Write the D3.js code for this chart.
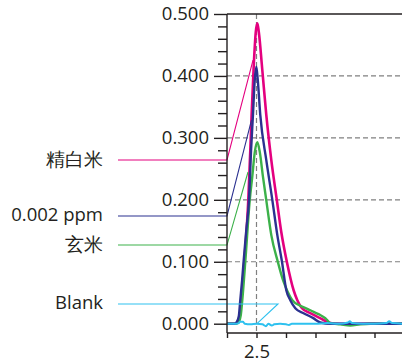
<!DOCTYPE html>
<html>
<head>
<meta charset="utf-8">
<script src="https://cdn.jsdelivr.net/npm/d3@7"></script>
<style>
  body { margin: 0; background: #fff; }
  svg { display: block; }
  text { font-family: "Open Sans", "Noto Sans", sans-serif; fill: #231f20; }
</style>
</head>
<body>
<div id="chart"></div>
<script>
// retention time (min) / absorbance
const seriesNames = ["精白米", "0.002 ppm", "玄米", "Blank"]

const pinkT = [2.0, 2.14, 2.183, 2.217, 2.242, 2.293, 2.361, 2.395, 2.417, 2.454, 2.488, 2.514, 2.539, 2.598, 2.666, 2.751, 2.844, 2.92, 3.014, 3.129, 3.192, 3.271, 3.412, 3.637, 3.717, 3.836, 5.0]
const pinkV = [0, 0, 0.003, 0.014, 0.038, 0.1, 0.2, 0.28, 0.337, 0.418, 0.471, 0.485, 0.471, 0.41, 0.337, 0.264, 0.2, 0.148, 0.1, 0.054, 0.038, 0.025, 0.017, 0.006, 0.002, 0, 0]

const navyT = [2.0, 2.124, 2.166, 2.2, 2.225, 2.256, 2.281, 2.327, 2.373, 2.408, 2.44, 2.47, 2.497, 2.522, 2.564, 2.666, 2.768, 2.853, 2.932, 3.005, 3.073, 3.158, 3.298, 3.463, 3.581, 3.75, 5.0]
const navyV = [0, 0, 0.003, 0.012, 0.038, 0.07, 0.1, 0.151, 0.2, 0.28, 0.337, 0.393, 0.415, 0.393, 0.337, 0.264, 0.2, 0.143, 0.1, 0.054, 0.038, 0.025, 0.017, 0.009, 0.002, 0, 0]

const greenT = [2.0, 2.158, 2.2, 2.234, 2.259, 2.31, 2.386, 2.429, 2.471, 2.514, 2.556, 2.61, 2.665, 2.751, 2.861, 2.954, 3.022, 3.107, 3.242, 3.361, 3.468, 3.581, 3.666, 3.751, 3.92, 4.09, 4.26, 4.43, 5.0]
const greenV = [0, 0, 0.003, 0.014, 0.038, 0.1, 0.2, 0.238, 0.277, 0.293, 0.277, 0.237, 0.2, 0.143, 0.1, 0.069, 0.053, 0.038, 0.029, 0.024, 0.019, 0.014, 0.009, 0.001, -0.001, -0.003, -0.001, 0, 0]

const blankT = [2.0, 2.15, 2.2, 2.22, 2.27, 2.3, 2.4, 2.5, 2.6, 2.66, 2.7, 2.76, 2.8, 2.9, 3.0, 3.05, 3.1, 3.3, 3.5, 3.7, 3.9, 4.05, 4.08, 4.12, 4.3, 4.5, 4.7, 4.75, 4.8, 5.0]
const blankV = [0, 0, 0.001, 0.003, 0.003, 0, -0.001, 0, -0.001, -0.004, 0, -0.003, -0.001, 0, -0.001, -0.002, 0, 0, 0, 0.001, 0, 0.002, 0.004, 0.001, 0, 0, 0.001, 0.004, 0.001, 0]

const yMajorTicks = [0, 0.1, 0.2, 0.3, 0.4, 0.5]
const yMinorTicks = [0.02, 0.04, 0.06, 0.08, 0.12, 0.14, 0.16, 0.18, 0.22, 0.24, 0.26, 0.28, 0.32, 0.34, 0.36, 0.38, 0.42, 0.44, 0.46, 0.48]
const xTicks = [2.0, 2.5, 3.0, 3.5, 4.0, 4.5, 5.0]
const xTickLabels = ["", "2.5", "", "", "", "", ""]
const yGridTicks = [0.1, 0.2, 0.3, 0.4]
const xGridTicks = [2.5]

const w = 402
const h = 363
const colors = ["#e4007f", "#2b3190", "#3cb14a", "#2ec1ef"]

const xScale = d3.scaleLinear().domain([2.0, 5.0]).range([227, 404])
const yScale = d3.scaleLinear().domain([-0.015, 0.5]).range([333, 14])

const svg = d3.select("#chart")
              .append("svg")
              .attr("width", w)
              .attr("height", h)

// dashed grid
svg.append("g")
  .selectAll("line")
  .data(yGridTicks)
  .enter()
  .append("line")
    .attr("x1", xScale(2.0))
    .attr("x2", w)
    .attr("y1", d => yScale(d))
    .attr("y2", d => yScale(d))
    .attr("stroke", "#808080")
    .attr("stroke-width", 1.2)
    .attr("stroke-dasharray", "5,3")

svg.append("g")
  .selectAll("line")
  .data(xGridTicks)
  .enter()
  .append("line")
    .attr("x1", d => xScale(d))
    .attr("x2", d => xScale(d))
    .attr("y1", yScale(0.5))
    .attr("y2", yScale(-0.015))
    .attr("stroke", "#808080")
    .attr("stroke-width", 1.2)
    .attr("stroke-dasharray", "5,3")

// top frame
svg.append("line")
  .attr("x1", xScale(2.0))
  .attr("x2", w)
  .attr("y1", yScale(0.5))
  .attr("y2", yScale(0.5))
  .attr("stroke", "#231f20")
  .attr("stroke-width", 1.4)

// curves
const line = d3.line()
               .x(d => xScale(d[0]))
               .y(d => yScale(d[1]))
               .curve(d3.curveMonotoneX)

const curves = [
  { t: pinkT, v: pinkV, c: colors[0], sw: 2.6 },
  { t: greenT, v: greenV, c: colors[2], sw: 2.4 },
  { t: navyT, v: navyV, c: colors[1], sw: 2.4 },
  { t: blankT, v: blankV, c: colors[3], sw: 2.0 }
]
curves.forEach(s => {
  svg.append("path")
    .datum(s.t.map((t, i) => [t, s.v[i]]))
    .attr("d", line)
    .attr("fill", "none")
    .attr("stroke", s.c)
    .attr("stroke-width", s.sw)
    .attr("stroke-linejoin", "round")
})

// legend labels with leader lines: label y value, corner t, tip t / value
const leaders = [
  { name: seriesNames[0], c: colors[0], ly: 0.2643, ct: 2.0, tt: 2.441, tv: 0.4257, fs: 19 },
  { name: seriesNames[1], c: colors[1], ly: 0.1739, ct: 2.0, tt: 2.415, tv: 0.3288, fs: 18.5 },
  { name: seriesNames[2], c: colors[2], ly: 0.127, ct: 2.0, tt: 2.356, tv: 0.2449, fs: 19 },
  { name: seriesNames[3], c: colors[3], ly: 0.0318, ct: 2.864, tt: 2.508, tv: 0, fs: 18.5 }
]
leaders.forEach(l => {
  svg.append("polyline")
    .attr("points", [[118, yScale(l.ly)], [xScale(l.ct), yScale(l.ly)], [xScale(l.tt), yScale(l.tv)]].join(" "))
    .attr("fill", "none")
    .attr("stroke", l.c)
    .attr("stroke-width", 1.1)
  svg.append("text")
    .attr("x", 103)
    .attr("y", yScale(l.ly) - 1)
    .attr("dy", "0.35em")
    .attr("text-anchor", "end")
    .style("font-size", l.fs + "px")
    .text(l.name)
})

// y axis
const yAxis = d3.axisLeft(yScale)
                .tickValues(yMajorTicks)
                .tickFormat(d3.format(".3f"))
                .tickSize(13)
                .tickPadding(5)
const yAxisG = svg.append("g")
  .attr("id", "y-axis")
  .attr("transform", `translate(${xScale(2.0)}, 0)`)
  .call(yAxis)

const yMinor = d3.axisLeft(yScale)
                 .tickValues(yMinorTicks)
                 .tickFormat("")
                 .tickSize(9)
const yMinorG = svg.append("g")
  .attr("transform", `translate(${xScale(2.0)}, 0)`)
  .call(yMinor)
yMinorG.select(".domain").remove()

// x axis
const xAxis = d3.axisBottom(xScale)
                .tickValues(xTicks)
                .tickFormat((d, i) => xTickLabels[i])
                .tickSize(5)
                .tickPadding(7)
const xAxisG = svg.append("g")
  .attr("id", "x-axis")
  .attr("transform", `translate(0, ${yScale(-0.015)})`)
  .call(xAxis)

svg.selectAll(".domain, .tick line")
  .attr("stroke", "#231f20")
  .attr("stroke-width", 1.4)
yAxisG.select(".domain").attr("d", `M0,${yScale(0.5)}V${yScale(-0.015)}`)
xAxisG.select(".domain").attr("d", `M${xScale(2.0)},0H${w}`)
svg.selectAll(".tick text")
  .style("font-size", "18.5px")
  .attr("fill", "#231f20")
</script>
</body>
</html>
